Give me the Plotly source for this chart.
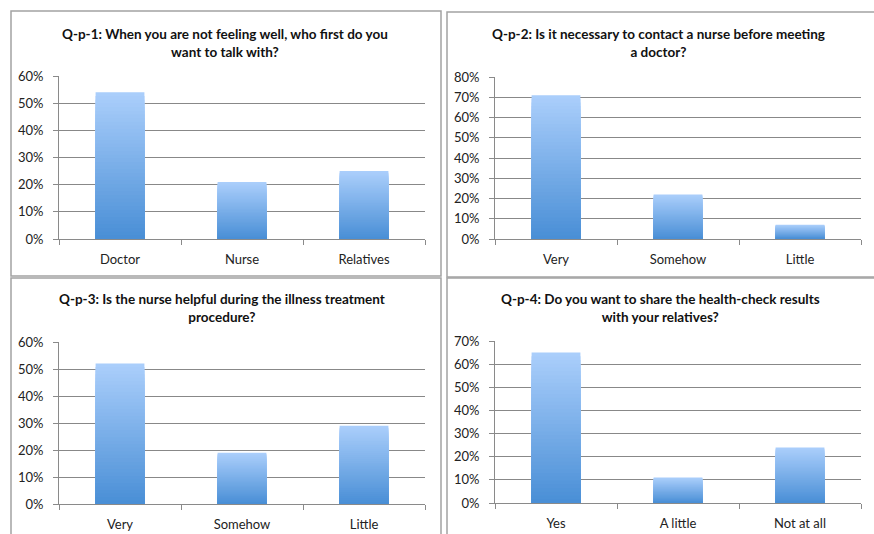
import plotly.graph_objects as go

# ---- data ----
titles = [
    "Q-p-1: When you are not feeling well, who first do you<br>want to talk with?",
    "Q-p-2: Is it necessary to contact a nurse before meeting<br>a doctor?",
    "Q-p-3: Is the nurse helpful during the illness treatment<br>procedure?",
    "Q-p-4: Do you want to share the health-check results<br>with your relatives?",
]
cats1 = ["Doctor", "Nurse", "Relatives"]
vals1 = [0.54, 0.21, 0.25]
cats2 = ["Very", "Somehow", "Little"]
vals2 = [0.71, 0.22, 0.07]
cats3 = ["Very", "Somehow", "Little"]
vals3 = [0.52, 0.19, 0.29]
cats4 = ["Yes", "A little", "Not at all"]
vals4 = [0.65, 0.11, 0.24]
ymax = [0.6, 0.8, 0.6, 0.7]

panels = [(cats1, vals1), (cats2, vals2), (cats3, vals3), (cats4, vals4)]

W, H = 874, 534
FONT = "Lato"

# plot-area pixel boxes (x0, x1, ytop, ybottom)
boxes = [(59, 425, 76, 239), (495, 861, 77, 239), (59, 425, 342, 504), (495, 861, 341, 503)]
# title centers (x px, y px of first line centre)
tcent = [(225, 33), (658, 33), (222, 298), (660, 298)]
# panel borders
frames = [(11, 11, 441, 276), (447, 12, 880, 277), (11, 278, 441, 540), (447, 278, 880, 540)]

top_rgb = (170, 206, 251)
bot_rgb = (74, 143, 214)
N = 40

fig = go.Figure()
for k, (cats, vals) in enumerate(panels):
    xa = "x" if k == 0 else f"x{k+1}"
    ya = "y" if k == 0 else f"y{k+1}"
    # gradient: overlay bars, lightest full height first, darker shorter ones on top
    for i in range(N):
        frac = 1 - i / N
        t = i / (N - 1)
        c = tuple(round(top_rgb[j] + (bot_rgb[j] - top_rgb[j]) * t) for j in range(3))
        fig.add_trace(go.Bar(
            x=cats, y=[v * frac for v in vals], xaxis=xa, yaxis=ya,
            marker=dict(color=f"rgb{c}", line=dict(width=0)),
            width=0.4, showlegend=False, hoverinfo="skip",
        ))
    x0, x1, yt, yb = boxes[k]
    sfx = "" if k == 0 else str(k + 1)
    fig.update_layout(**{
        f"xaxis{sfx}": dict(
            domain=[x0 / W, x1 / W], anchor=ya, type="category", tickson="boundaries",
            ticks="outside", ticklen=5, tickcolor="#8a8a8a", showline=True,
            linecolor="#8a8a8a", linewidth=1, showgrid=False, ticklabelstandoff=8,
            automargin=False, fixedrange=True,
            tickfont=dict(family=FONT, size=13, color="#222"),
        ),
        f"yaxis{sfx}": dict(
            domain=[1 - yb / H, 1 - yt / H], anchor=xa, range=[0, ymax[k]], dtick=0.1,
            tickformat=".0%", ticks="outside", ticklen=5, tickcolor="#8a8a8a",
            showline=True, linecolor="#8a8a8a", linewidth=1, showgrid=True,
            gridcolor="#888888", gridwidth=1.2, zeroline=False, ticklabelstandoff=7,
            automargin=False, fixedrange=True,
            tickfont=dict(family=FONT, size=13, color="#222"),
        ),
    })
    fig.add_annotation(
        text=f"<b>{titles[k]}</b>", xref="paper", yref="paper",
        x=tcent[k][0] / W, y=1 - (tcent[k][1] - 9) / H, xanchor="center", yanchor="top",
        showarrow=False, align="center",
        font=dict(family=FONT, size=13.5, color="#111"),
    )
    fx0, fy0, fx1, fy1 = frames[k]
    fig.add_shape(type="rect", xref="paper", yref="paper",
                  x0=fx0 / W, x1=fx1 / W, y0=1 - fy1 / H, y1=1 - fy0 / H,
                  line=dict(color="#a3a3a3", width=1.5), layer="below")

fig.update_layout(
    width=W, height=H, barmode="overlay", bargap=0.6,
    margin=dict(l=0, r=0, t=0, b=0, autoexpand=False),
    paper_bgcolor="white", plot_bgcolor="white",
    font=dict(family=FONT),
)
post = ("var gd=document.getElementById('{plot_id}');"
        "document.body.style.margin='0';document.body.style.overflow='hidden';"
        "gd.style.position='fixed';gd.style.left='0px';gd.style.top='0px';")
fig.write_html("out.html", config={"displayModeBar": False}, post_script=post)
